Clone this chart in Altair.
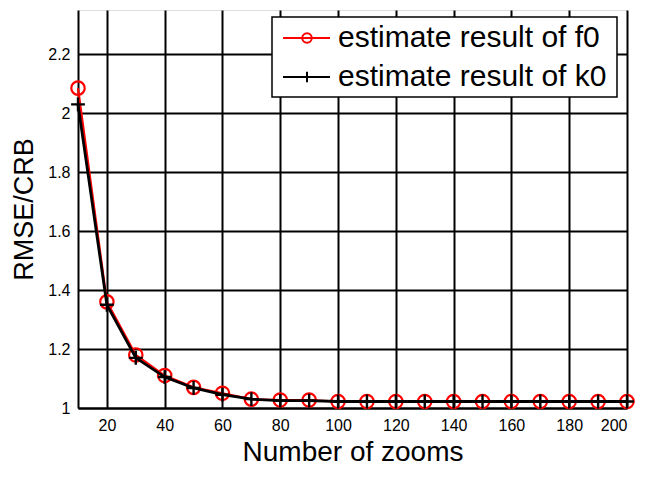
import altair as alt
import pandas as pd

zooms = [10, 20, 30, 40, 50, 60, 70, 80, 90, 100, 110, 120, 130, 140, 150, 160, 170, 180, 190, 200]
f0_vals = [2.085, 1.36, 1.18, 1.11, 1.07, 1.05, 1.03, 1.027, 1.027, 1.022, 1.022, 1.022, 1.022, 1.022, 1.022, 1.022, 1.022, 1.022, 1.022, 1.022]
k0_vals = [2.03, 1.35, 1.17, 1.105, 1.068, 1.045, 1.03, 1.025, 1.025, 1.022, 1.022, 1.022, 1.022, 1.022, 1.022, 1.022, 1.022, 1.022, 1.022, 1.022]
x_ticks = [20, 40, 60, 80, 100, 120, 140, 160, 180, 200]
y_ticks = [1, 1.2, 1.4, 1.6, 1.8, 2, 2.2]
legend_labels = ["estimate result of f0", "estimate result of k0"]

df_f = pd.DataFrame({"x": zooms, "y": f0_vals})
df_k = pd.DataFrame({"x": zooms, "y": k0_vals})

FONT = "Liberation Sans"
xs = alt.Scale(domain=[10, 200], nice=False, zero=False)
ys = alt.Scale(domain=[1, 2.35], nice=False, zero=False)

xenc = alt.X("x:Q", scale=xs, axis=alt.Axis(values=x_ticks, title="Number of zooms", grid=True,
             gridColor="black", gridWidth=2, gridOpacity=1, domainColor="black", domainWidth=2,
             ticks=False, labelPadding=9, labelFont=FONT, labelFontSize=16, labelColor="black",
             titleFont=FONT, titleFontSize=28, titleFontWeight="normal", titleColor="black", titlePadding=5))
yenc = alt.Y("y:Q", scale=ys, axis=alt.Axis(values=y_ticks, format="~g", title="RMSE/CRB", grid=True,
             gridColor="black", gridWidth=2, gridOpacity=1, domainColor="black", domainWidth=2,
             ticks=False, labelPadding=8, labelFont=FONT, labelFontSize=16, labelColor="black",
             titleFont=FONT, titleFontSize=27, titleFontWeight="normal", titleColor="black", titlePadding=9))

f_line = alt.Chart(df_f).mark_line(color="red", strokeWidth=2.2).encode(x=xenc, y=yenc)
f_pts = alt.Chart(df_f).mark_point(shape="circle", color="red", filled=False, size=180, strokeWidth=2.2, opacity=1).encode(x="x:Q", y="y:Q")
k_line = alt.Chart(df_k).mark_line(color="black", strokeWidth=2.8).encode(x="x:Q", y="y:Q")
k_pts = alt.Chart(df_k).mark_point(shape="M-1,0L1,0M0,-1L0,1", color="black", filled=False, size=190, strokeWidth=2.4, opacity=1).encode(x="x:Q", y="y:Q")

one = pd.DataFrame({"a": [0]})
leg_box = alt.Chart(one).mark_rect(fill="white", stroke="black", strokeWidth=1.5).encode(
    x=alt.value(194), x2=alt.value(539), y=alt.value(7), y2=alt.value(87))
leg_df = pd.DataFrame({"label": legend_labels, "yy": [28, 67]})
leg_l1 = alt.Chart(one).mark_rule(color="red", strokeWidth=2).encode(
    x=alt.value(205), x2=alt.value(252), y=alt.value(28))
leg_l2 = alt.Chart(one).mark_rule(color="black", strokeWidth=2).encode(
    x=alt.value(205), x2=alt.value(252), y=alt.value(67))
leg_p1 = alt.Chart(one).mark_point(shape="circle", color="red", filled=False, size=90, strokeWidth=2, opacity=1).encode(
    x=alt.value(229), y=alt.value(28))
leg_p2 = alt.Chart(one).mark_point(shape="M-1,0L1,0M0,-1L0,1", color="black", filled=False, size=110, strokeWidth=2, opacity=1).encode(
    x=alt.value(229), y=alt.value(67))
leg_t = alt.Chart(leg_df).mark_text(font=FONT, fontSize=30, align="left", baseline="middle", color="black").encode(
    x=alt.value(260), y=alt.Y("yy:Q", scale=None), text="label:N")

chart = alt.layer(f_line, f_pts, k_line, k_pts, leg_box, leg_l1, leg_l2, leg_p1, leg_p2, leg_t).properties(
    width=549, height=398, autosize=alt.AutoSizeParams(type="none"),
    padding={"left": 70, "top": 2, "right": 11, "bottom": 75}
).configure_view(stroke="black", strokeWidth=2).configure(background="white")

chart.save("out.html", embed_options={"renderer": "svg", "actions": False})
